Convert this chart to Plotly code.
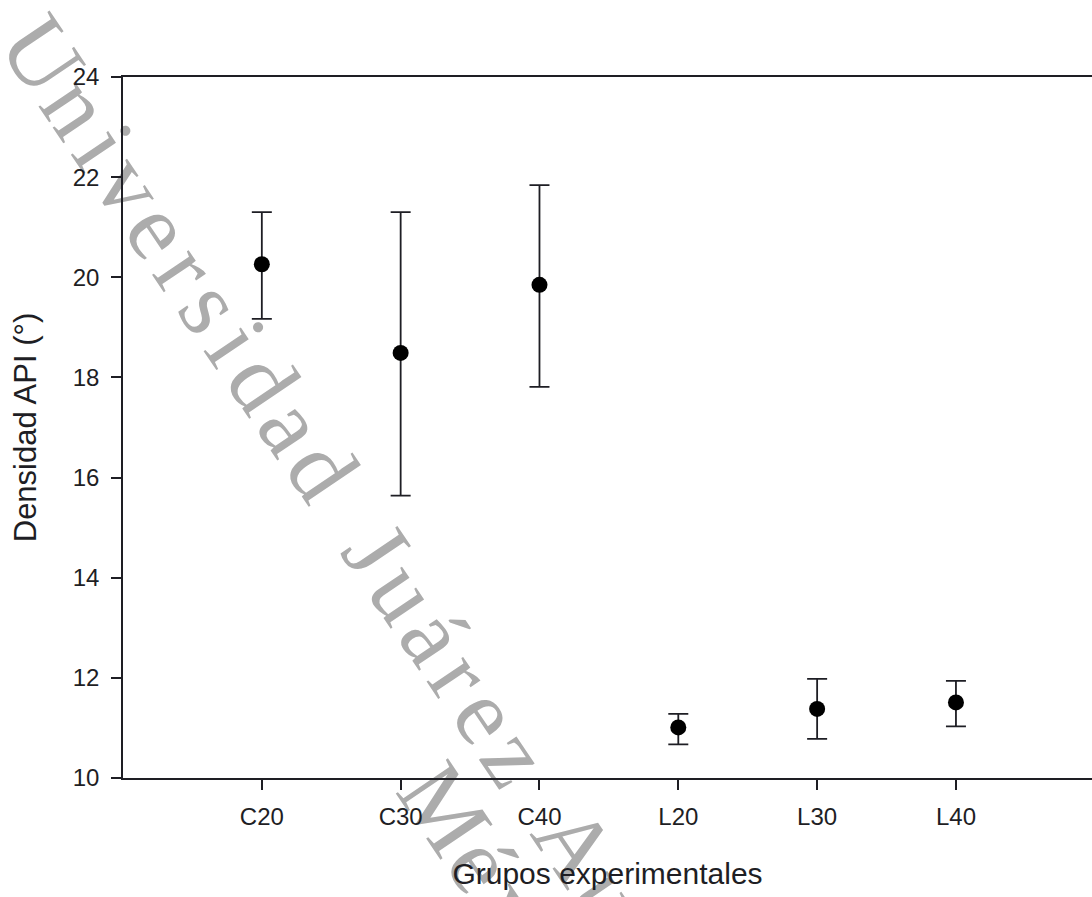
import math
import plotly.graph_objects as go

# ---------------- data ----------------
groups = ["C20", "C30", "C40", "L20", "L30", "L40"]
group_pos = [1, 2, 3, 4, 5, 6]
means = [20.26, 18.49, 19.85, 11.01, 11.38, 11.51]
err_plus = [1.04, 2.81, 1.99, 0.27, 0.60, 0.43]
err_minus = [1.09, 2.85, 2.04, 0.34, 0.60, 0.48]
y_ticks = [10, 12, 14, 16, 18, 20, 22, 24]

x_title = "Grupos experimentales"
y_title = "Densidad API (°)"
wm_lines = ["Universidad Juárez Autónoma de Tabasco", "México"]

# ---------------- layout geometry ----------------
W, H = 1092, 897
ML, MR, MT, MB = 123, 0, 77, 119
PW, PH = W - ML - MR, H - MT - MB
AX = "#1e1e24"
FONT = "Liberation Sans, Arial, sans-serif"

fig = go.Figure()
fig.add_trace(go.Scatter(
    x=group_pos, y=means, mode="markers",
    marker=dict(color="black", size=16),
    error_y=dict(type="data", symmetric=False, array=err_plus, arrayminus=err_minus,
                 color=AX, thickness=1.8, width=10),
    showlegend=False, hoverinfo="skip",
))

# ---------------- watermark (behind everything) ----------------
tw = {"U": 722, "n": 500, "i": 278, "v": 500, "e": 444, "r": 333, "s": 389, "d": 500,
      "a": 444, " ": 350, "J": 389, "u": 500, "á": 444, "z": 444, "A": 722, "t": 278,
      "ó": 500, "o": 500, "m": 778, "T": 611, "b": 500, "c": 444, "M": 889, "é": 444,
      "x": 500}
em = 68          # advance metric size
wm_size = 96     # rendered label size
track = 21
ang = 56
ux, uy = math.cos(math.radians(ang)), math.sin(math.radians(ang))
nx, ny = uy, -ux
p0 = (51, 49)
line_starts = [(0, 0), (850, -88)]  # (along, perp) of first glyph centre for each line


def to_paper(px, py):
    return (px - ML) / PW, 1 - (py - MT) / PH


shapes = []
for text, (a0, q0) in zip(wm_lines, line_starts):
    w0 = tw.get(text[0], 500) * em / 1000
    cum = a0 - w0 / 2
    for ch in text:
        w = tw.get(ch, 500) * em / 1000
        c = cum + w / 2
        cum += w + track
        if ch == " ":
            continue
        px = p0[0] + ux * c + nx * q0
        py = p0[1] + uy * c + ny * q0
        if px > W + 80 or py > H + 80:
            continue
        xp, yp = to_paper(px, py)
        shapes.append(dict(
            type="rect", xref="paper", yref="paper",
            x0=xp - 0.0005, x1=xp + 0.0005, y0=yp - 0.0005, y1=yp + 0.0005,
            line=dict(width=0), fillcolor="rgba(0,0,0,0)", layer="below",
            label=dict(text=ch, textangle=ang, textposition="middle center",
                       font=dict(family="Liberation Serif, Times New Roman, serif",
                                 size=wm_size, color="#acacac")),
        ))

fig.update_layout(
    width=W, height=H,
    margin=dict(l=ML, r=MR, t=MT, b=MB, autoexpand=False),
    paper_bgcolor="white", plot_bgcolor="white",
    font=dict(family=FONT, color=AX),
    shapes=shapes,
    xaxis=dict(
        range=[0, 6.98], tickmode="array", tickvals=group_pos, ticktext=groups,
        showgrid=False, zeroline=False, showline=True, linecolor=AX, linewidth=1.5,
        mirror=True, ticks="outside", ticklen=10, tickwidth=1.5, tickcolor=AX,
        tickfont=dict(size=24, color=AX), ticklabelstandoff=6,
        title=dict(text=x_title, font=dict(size=30, color=AX), standoff=34),
        automargin=False,
    ),
    yaxis=dict(
        range=[10, 24], tickmode="array", tickvals=y_ticks,
        showgrid=False, zeroline=False, showline=True, linecolor=AX, linewidth=1.5,
        ticks="outside", ticklen=10, tickwidth=1.5, tickcolor=AX,
        tickfont=dict(size=24, color=AX), ticklabelstandoff=7,
        title=dict(text=y_title, font=dict(size=31, color=AX), standoff=27),
        automargin=False,
    ),
)

fig.write_html("out.html", config={"displayModeBar": False},
               post_script="document.body.style.margin='0';document.body.style.overflow='hidden';")
